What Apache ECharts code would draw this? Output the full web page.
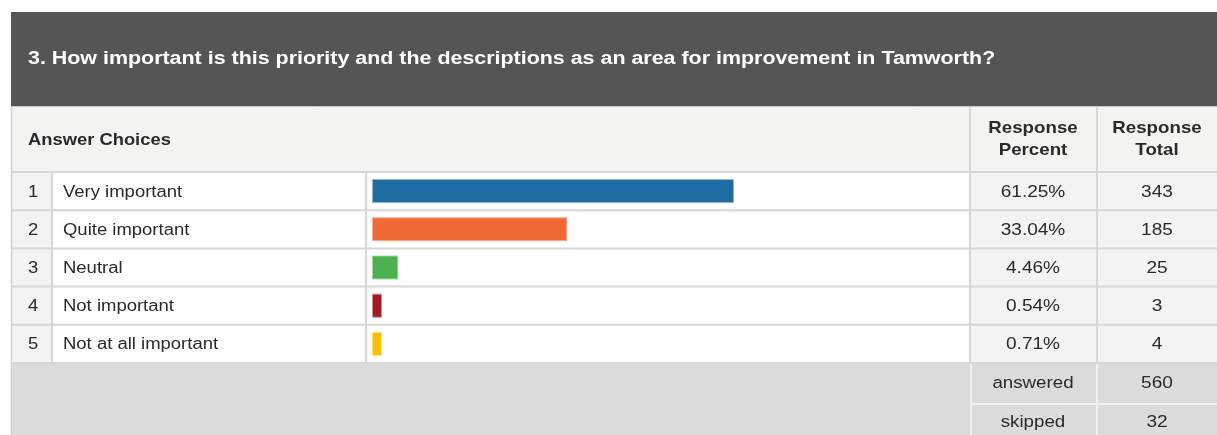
<!DOCTYPE html>
<html>
<head>
<meta charset="utf-8">
<script src="https://cdn.jsdelivr.net/npm/echarts@6/dist/echarts.min.js"></script>
<style>
html,body{margin:0;padding:0;background:#fff;}
#chart{width:1217px;height:435px;}
</style>
</head>
<body>
<div id="chart"></div>
<script>
const titleText = '3. How important is this priority and the descriptions as an area for improvement in Tamworth?';
const categories = ['Very important', 'Quite important', 'Neutral', 'Not important', 'Not at all important'];
const percentValues = [61.25, 33.04, 4.46, 0.54, 0.71];
const totalValues = [343, 185, 25, 3, 4];
const barColors = ['#1e6ea3', '#f06833', '#4caf50', '#a31a20', '#ffc000'];
const barBorders = ['#8db5d2', '#f7b096', '#a3d6a5', '#d18b8e', '#ffdf80'];
const footerLabels = ['answered', 'skipped'];
const footerValues = [560, 32];

const FONT = '"Liberation Sans", Arial, sans-serif';
const chart = echarts.init(document.getElementById('chart'), null, {renderer: 'canvas'});

// layout
const L = 11, R = 1217;
const HEAD_TOP = 12, HEAD_BOT = 106;
const COLH_TOP = 107, BODY_TOP = 172, BODY_BOT = 363;
const C_NUM = 52, C_LAB = 366, C_PCT = 970, C_TOT = 1097;
const rowH = (BODY_BOT - BODY_TOP) / categories.length;
const LINE = '#d7d7d7';

function txt(x, y, text, o) {
  o = o || {};
  return {
    type: 'text', x: x, y: y, z: 10,
    scaleX: o.sx || 1,
    style: {
      text: text,
      font: (o.bold ? 'bold ' : '') + (o.size || 15) + 'px ' + FONT,
      fill: o.color || '#2a2a2a',
      align: o.align || 'left', textAlign: o.align || 'left',
      verticalAlign: 'middle', textVerticalAlign: 'middle'
    }
  };
}
function rect(x, y, w, h, fill) {
  return {type: 'rect', z: 1, shape: {x: x, y: y, width: w, height: h}, style: {fill: fill}};
}
function line(x1, y1, x2, y2, color, w) {
  return {type: 'line', z: 5, shape: {x1: x1, y1: y1, x2: x2, y2: y2}, style: {stroke: color || LINE, lineWidth: w || 2}};
}

const g = [];
// backgrounds
g.push(rect(L, HEAD_TOP, R - L, HEAD_BOT - HEAD_TOP, '#545554'));
g.push(rect(L, COLH_TOP, R - L, BODY_TOP - COLH_TOP, '#f3f3f2'));
g.push(rect(L, BODY_TOP, C_NUM - L, BODY_BOT - BODY_TOP, '#f3f3f3'));
g.push(rect(C_NUM, BODY_TOP, C_PCT - C_NUM, BODY_BOT - BODY_TOP, '#ffffff'));
g.push(rect(C_PCT, BODY_TOP, R - C_PCT, BODY_BOT - BODY_TOP, '#f3f3f3'));
g.push(rect(L, BODY_BOT, R - L, 435 - BODY_BOT, '#dcdcdc'));

// header borders
g.push(line(L, HEAD_BOT + 0.5, R, HEAD_BOT + 0.5, '#c9c9c9', 1));
g.push(line(L + 0.5, HEAD_BOT, L + 0.5, 435, '#d0d0d0', 1.5));
g.push(line(C_PCT, COLH_TOP, C_PCT, BODY_BOT, LINE, 2));
g.push(line(C_TOT, COLH_TOP, C_TOT, BODY_BOT, LINE, 2));
for (let i = 0; i <= categories.length; i++) {
  const y = BODY_TOP + i * rowH;
  g.push(line(L, y, R, y, LINE, 2));
}
g.push(line(C_NUM, BODY_TOP, C_NUM, BODY_BOT, LINE, 2));
g.push(line(C_LAB, BODY_TOP, C_LAB, BODY_BOT, LINE, 2));
// footer separators (light)
g.push(line(C_PCT + 1, BODY_BOT + 1, C_PCT + 1, 435, '#f0f0f0', 2));
g.push(line(C_TOT, BODY_BOT + 1, C_TOT, 435, '#f0f0f0', 2));
g.push(line(C_PCT, BODY_BOT + 41, R, BODY_BOT + 41, '#f0f0f0', 2));

// texts
g.push(txt(28, 59, titleText, {bold: true, size: 18, color: '#ffffff', sx: 1.19}));
g.push(txt(28, 140, 'Answer Choices', {bold: true, size: 17, sx: 1.08}));
const pctX = (C_PCT + C_TOT) / 2 - 0.5, totX = (C_TOT + R) / 2;
g.push(txt(pctX, 128, 'Response', {bold: true, size: 17, align: 'center', sx: 1.1}));
g.push(txt(pctX, 150, 'Percent', {bold: true, size: 17, align: 'center', sx: 1.1}));
g.push(txt(totX, 128, 'Response', {bold: true, size: 17, align: 'center', sx: 1.1}));
g.push(txt(totX, 150, 'Total', {bold: true, size: 17, align: 'center', sx: 1.1}));

categories.forEach(function (c, i) {
  const y = BODY_TOP + (i + 0.5) * rowH + 1;
  g.push(txt(33, y, String(i + 1), {size: 16, align: 'center', sx: 1.15}));
  g.push(txt(63, y, c, {size: 16, sx: 1.155}));
  g.push(txt(pctX, y, percentValues[i].toFixed(2) + '%', {size: 16, align: 'center', sx: 1.19}));
  g.push(txt(totX, y, String(totalValues[i]), {size: 16, align: 'center', sx: 1.19}));
});
footerLabels.forEach(function (f, i) {
  const y = BODY_BOT + 21 + i * 39;
  g.push(txt(pctX, y, f, {size: 16, align: 'center', sx: 1.17}));
  g.push(txt(totX, y, String(footerValues[i]), {size: 16, align: 'center', sx: 1.19}));
});

chart.setOption({
  animation: false,
  backgroundColor: '#ffffff',
  grid: {left: 372, right: R - 963, top: BODY_TOP, height: BODY_BOT - BODY_TOP, containLabel: false},
  xAxis: {type: 'value', min: 0, max: 100, show: false},
  yAxis: {type: 'category', data: categories, inverse: true, show: false},
  graphic: {elements: g},
  series: [{
    type: 'bar',
    z: 20,
    barWidth: 24,
    barMinHeight: 10,
    data: percentValues.map(function (v, i) {
      return {value: v, itemStyle: {color: barColors[i], borderColor: barBorders[i], borderWidth: 1}};
    })
  }]
});
</script>
</body>
</html>
